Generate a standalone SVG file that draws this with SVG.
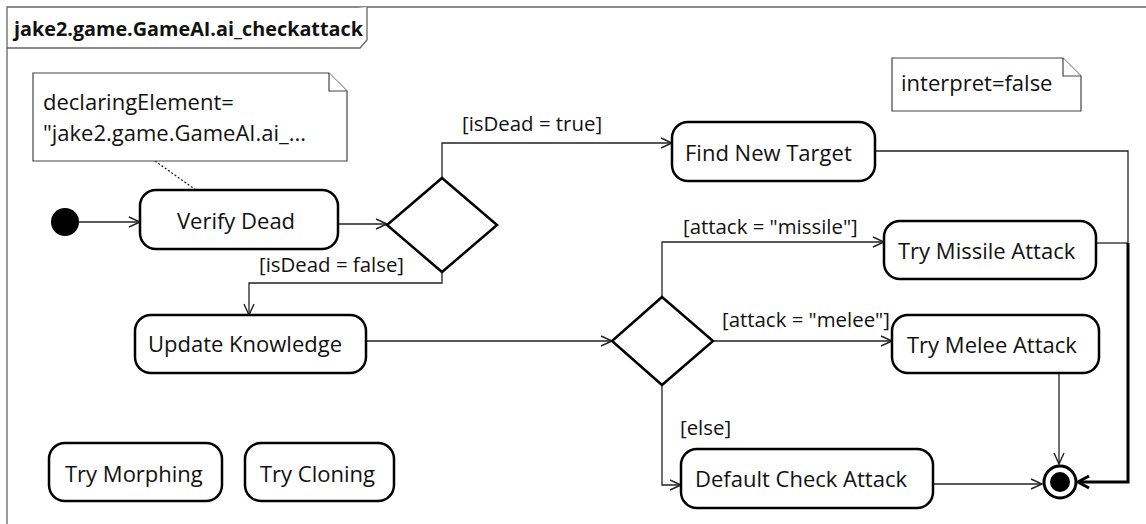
<svg xmlns="http://www.w3.org/2000/svg" width="1146" height="524" viewBox="0 0 1146 524">
<style>
text{font-family:"Open Sans","Noto Sans","Liberation Sans",sans-serif;fill:#111}
.n{font-size:22px}
.l{font-size:20.4px}
.t{font-size:19.8px;font-weight:bold}
.node{fill:#fff;stroke:#000;stroke-width:2.5}
.note{fill:#fff;stroke:#444;stroke-width:1.2}
.e{fill:none;stroke:#222;stroke-width:1.3}
</style>
<defs>
<marker id="a" markerUnits="userSpaceOnUse" markerWidth="14" markerHeight="14" refX="12" refY="6" orient="auto" viewBox="0 0 14 12">
<path d="M1,1 L12,6 L1,11" fill="none" stroke="#222" stroke-width="1.4"/>
</marker>
<marker id="b" markerUnits="userSpaceOnUse" markerWidth="16" markerHeight="16" refX="12" refY="7" orient="auto" viewBox="0 0 16 14">
<path d="M1,1 L12,7 L1,13" fill="none" stroke="#000" stroke-width="3"/>
</marker>
</defs>
<g id="frame">
<path d="M7,530 V7 H1150" fill="none" stroke="#666" stroke-width="1.3"/>
<path d="M7,48 H360 L367,40 V7" fill="#fff" stroke="#666" stroke-width="1.3"/>
<text class="t" x="14" y="36">jake2.game.GameAI.ai_checkattack</text>
</g>
<g id="connectors">
<path class="e" d="M155,161 L196,190" stroke-dasharray="2,2" stroke="#777"/>
<path class="e" d="M79,222 H140" marker-end="url(#a)"/>
<path class="e" d="M338,224 H387" marker-end="url(#a)"/>
<path class="e" d="M442,178 V143 H672" marker-end="url(#a)"/>
<path class="e" d="M442,272 V283 H249 V315" marker-end="url(#a)"/>
<path class="e" d="M366,341 H612" marker-end="url(#a)"/>
<path class="e" d="M662,297 V242 H884" marker-end="url(#a)"/>
<path class="e" d="M713,341 H892" marker-end="url(#a)"/>
<path class="e" d="M662,385 V485 H681" marker-end="url(#a)"/>
<path class="e" d="M875,151 H1128 V243"/>
<path class="e" d="M1096,243 H1128"/>
<path d="M1128,243 V482 H1078" fill="none" stroke="#000" stroke-width="3" marker-end="url(#b)"/>
<path class="e" d="M1059,373 V464" marker-end="url(#a)"/>
<path class="e" d="M933,484 H1042" marker-end="url(#a)"/>
<text class="l" x="462" y="131">[isDead = true]</text>
<text class="l" x="259" y="272">[isDead = false]</text>
<text class="l" x="683" y="234">[attack = "missile"]</text>
<text class="l" x="722" y="327">[attack = "melee"]</text>
<text class="l" x="680" y="435">[else]</text>
</g>
<g id="note1">
<path class="note" d="M33,73 H329 L347,91 V161 H33 Z"/>
<path class="note" d="M329,73 V91 H347" fill="none"/>
<text class="n" x="43" y="110">declaringElement=</text>
<text class="n" x="43" y="141">"jake2.game.GameAI.ai_...</text>
</g>
<g id="note2">
<path class="note" d="M892,58 H1063 L1081,76 V111 H892 Z"/>
<path class="note" d="M1063,58 V76 H1081" fill="none"/>
<text class="n" x="901" y="91">interpret=false</text>
</g>
<g id="initial"><circle cx="65" cy="222" r="14" fill="#000"/></g>
<g id="verifyDead"><rect class="node" x="140" y="190" width="198" height="59" rx="16"/><text class="n" x="236" y="229" text-anchor="middle">Verify Dead</text></g>
<g id="decision1"><path class="node" d="M442,178 L497,225 L442,272 L387,225 Z"/></g>
<g id="findNewTarget"><rect class="node" x="672" y="122" width="203" height="59" rx="16"/><text class="n" x="685" y="161">Find New Target</text></g>
<g id="updateKnowledge"><rect class="node" x="135" y="315" width="231" height="58" rx="16"/><text class="n" x="148" y="352">Update Knowledge</text></g>
<g id="decision2"><path class="node" d="M662,297 L713,341 L662,385 L612,341 Z"/></g>
<g id="tryMissileAttack"><rect class="node" x="884" y="221" width="212" height="58" rx="16"/><text class="n" x="898" y="259">Try Missile Attack</text></g>
<g id="tryMeleeAttack"><rect class="node" x="892" y="315" width="207" height="58" rx="16"/><text class="n" x="907" y="353">Try Melee Attack</text></g>
<g id="defaultCheckAttack"><rect class="node" x="681" y="449" width="252" height="59" rx="16"/><text class="n" x="695" y="487">Default Check Attack</text></g>
<g id="tryMorphing"><rect class="node" x="49" y="443" width="173" height="58" rx="16"/><text class="n" x="65" y="482">Try Morphing</text></g>
<g id="tryCloning"><rect class="node" x="245" y="443" width="149" height="58" rx="16"/><text class="n" x="260" y="482">Try Cloning</text></g>
<g id="final"><circle cx="1060" cy="482" r="16" fill="#fff" stroke="#000" stroke-width="3"/><circle cx="1060" cy="482" r="10" fill="#000"/></g>
</svg>
